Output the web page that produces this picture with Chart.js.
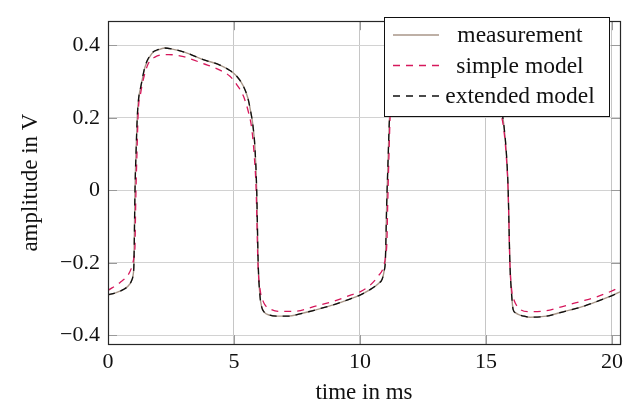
<!DOCTYPE html>
<html>
<head>
<meta charset="utf-8">
<script src="https://cdn.jsdelivr.net/npm/chart.js@4/dist/chart.umd.min.js"></script>
<style>
  body { margin: 0; background: #fff; }
  #wrap { width: 634px; height: 407px; position: relative; }
</style>
</head>
<body>
<div id="wrap"><canvas id="signalChart"></canvas></div>
<script>
// axis ticks
var xTicks = [0, 5, 10, 15, 20];
var xTickLabels = ['0', '5', '10', '15', '20'];
var yTicks = [-0.4, -0.2, 0, 0.2, 0.4];
var yTickLabels = ['\u22120.4', '\u22120.2', '0', '0.2', '0.4'];

// measured signal (time in ms, amplitude in V)
var measTime = [
        0, 0.3, 0.6, 0.8, 0.93, 1.0, 1.03, 1.07, 1.12, 1.16, 1.21,
        1.31, 1.47, 1.73, 2.0, 2.25, 2.55, 3.06, 3.78, 4.44, 4.84, 5.11, 5.37, 5.55,
        5.65, 5.75, 5.83, 5.9, 5.96, 6.03, 6.1, 6.2,
        6.4, 6.7, 7.15, 7.62, 8.28, 8.94, 9.6, 10.0, 10.4, 10.75, 10.88, 10.96,
        11.01, 11.06, 11.12, 11.16, 11.22,
        11.32, 11.49, 11.75, 12.0, 12.25, 12.55, 13.06, 13.78, 14.44, 14.84, 15.11, 15.37, 15.55,
        15.64, 15.71, 15.82, 15.88, 15.95, 16.02, 16.08, 16.18,
        16.28, 16.5, 16.75, 17.4, 18.07, 18.73, 19.39, 20.05, 20.32
];
var measVolt = [
        -0.289, -0.283, -0.274, -0.264, -0.25, -0.232, -0.2, -0.005, 0.12, 0.2, 0.25,
        0.288, 0.341, 0.377, 0.388, 0.393, 0.39, 0.381, 0.361, 0.346, 0.331, 0.315, 0.288, 0.255,
        0.222, 0.18, 0.12, 0.004, -0.2, -0.29, -0.322, -0.336,
        -0.344, -0.347, -0.347, -0.341, -0.329, -0.316, -0.3, -0.289, -0.274, -0.256, -0.245, -0.222,
        -0.19, -0.04, 0.093, 0.181, 0.25,
        0.288, 0.341, 0.377, 0.388, 0.393, 0.39, 0.381, 0.361, 0.346, 0.331, 0.315, 0.288, 0.255,
        0.215, 0.181, 0.093, 0.004, -0.2, -0.289, -0.329, -0.338,
        -0.342, -0.347, -0.35, -0.347, -0.335, -0.323, -0.307, -0.289, -0.28
];

// simple model
var simpleTime = [
        0, 0.48, 0.8, 0.94, 1.03, 1.07, 1.1, 1.16, 1.2, 1.3, 1.4, 1.6, 1.86,
        2.4, 3.0, 3.78, 4.44, 4.84, 5.11, 5.37, 5.57, 5.7,
        5.8, 5.88, 5.95, 6.05, 6.15, 6.25, 6.45, 6.8,
        7.35, 8.3, 8.95, 9.6, 10.0, 10.4, 10.73, 10.93, 11.02,
        11.07, 11.1, 11.16, 11.2, 11.3, 11.4, 11.6, 11.86,
        12.4, 13.0, 13.78, 14.44, 14.84, 15.11, 15.37, 15.57, 15.7,
        15.8, 15.88, 15.95, 16.03, 16.1, 16.3, 16.75,
        17.4, 18.07, 18.73, 19.39, 20.05, 20.32
];
var simpleVolt = [
        -0.276, -0.254, -0.233, -0.212, -0.185, -0.156, -0.032, 0.128, 0.217, 0.27, 0.306, 0.35, 0.368,
        0.375, 0.369, 0.35, 0.332, 0.315, 0.292, 0.261, 0.217, 0.173,
        0.1, 0.0, -0.2, -0.28, -0.305, -0.318, -0.328, -0.334,
        -0.334, -0.318, -0.306, -0.29, -0.28, -0.262, -0.236, -0.212, -0.18,
        -0.14, -0.04, 0.12, 0.21, 0.265, 0.305, 0.35, 0.368,
        0.375, 0.369, 0.35, 0.332, 0.315, 0.292, 0.261, 0.217, 0.173,
        0.1, 0.0, -0.2, -0.28, -0.3, -0.325, -0.335,
        -0.332, -0.32, -0.307, -0.294, -0.276, -0.267
];

// extended model (sampled at the same times as the measurement)
var extTime = measTime;
var extVolt = [
        -0.288, -0.283, -0.274, -0.264, -0.25, -0.231, -0.2, -0.006, 0.12, 0.2, 0.25,
        0.289, 0.342, 0.378, 0.389, 0.393, 0.39, 0.381, 0.361, 0.346, 0.331, 0.315, 0.288, 0.255,
        0.222, 0.18, 0.12, 0.004, -0.2, -0.29, -0.322, -0.336,
        -0.344, -0.347, -0.347, -0.341, -0.329, -0.316, -0.3, -0.289, -0.274, -0.256, -0.245, -0.222,
        -0.19, -0.04, 0.093, 0.181, 0.25,
        0.289, 0.342, 0.378, 0.389, 0.393, 0.39, 0.381, 0.361, 0.346, 0.331, 0.315, 0.288, 0.255,
        0.215, 0.181, 0.093, 0.004, -0.2, -0.289, -0.329, -0.338,
        -0.342, -0.347, -0.35, -0.347, -0.335, -0.323, -0.307, -0.289, -0.28
];

function toPoints(ts, vs) {
        return ts.map(function (t, i) { return { x: t, y: vs[i] }; });
}

var serif = "'Liberation Serif', 'Times New Roman', serif";
var measColor = 'rgb(168, 150, 136)';
var simpleColor = 'rgb(214, 24, 92)';
var extColor = 'rgb(15, 15, 15)';

// frame and inward tick marks around the plot area
var framePlugin = {
        id: 'frame',
        afterDatasetsDraw: function (chart) {
                var a = chart.chartArea, c = chart.ctx;
                var xs = chart.scales.x, ys = chart.scales.y;
                var len = 9;
                c.save();
                c.strokeStyle = '#9a9a9a';
                c.lineWidth = 1;
                c.beginPath();
                xTicks.forEach(function (v) {
                        var px = Math.round(xs.getPixelForValue(v)) + 0.5;
                        c.moveTo(px, a.bottom); c.lineTo(px, a.bottom - len);
                        c.moveTo(px, a.top); c.lineTo(px, a.top + len);
                });
                yTicks.forEach(function (v) {
                        var py = Math.round(ys.getPixelForValue(v)) + 0.5;
                        c.moveTo(a.left, py); c.lineTo(a.left + len, py);
                        c.moveTo(a.right, py); c.lineTo(a.right - len, py);
                });
                c.stroke();
                c.strokeStyle = '#262626';
                c.lineWidth = 1.2;
                c.strokeRect(Math.round(a.left) + 0.5, Math.round(a.top) + 0.5,
                        Math.round(a.right - a.left), Math.round(a.bottom - a.top));
                c.restore();
        }
};

// legend box in the upper right corner of the plot
var legendPlugin = {
        id: 'boxLegend',
        afterDraw: function (chart) {
                var c = chart.ctx;
                var box = { x: 384.5, y: 17.5, w: 225, h: 99 };
                c.save();
                c.fillStyle = '#fff';
                c.fillRect(box.x, box.y, box.w, box.h);
                c.strokeStyle = '#111';
                c.lineWidth = 1;
                c.strokeRect(box.x, box.y, box.w, box.h);
                c.font = '23.5px ' + serif;
                c.textAlign = 'center';
                c.textBaseline = 'middle';
                chart.data.datasets.forEach(function (ds, i) {
                        var y = 35 + i * 30.5;
                        c.strokeStyle = ds.borderColor;
                        c.lineWidth = ds.borderWidth;
                        c.setLineDash(ds.borderDash || []);
                        c.beginPath();
                        c.moveTo(393, y); c.lineTo(439, y);
                        c.stroke();
                        c.setLineDash([]);
                        c.fillStyle = '#111';
                        c.fillText(ds.label, 520, y + 1);
                });
                c.restore();
        }
};

// higher order is drawn first, so the extended model ends up on top
var signalData = {
        datasets: [
                {
                        label: 'measurement',
                        data: toPoints(measTime, measVolt),
                        borderColor: measColor,
                        borderWidth: 1.4,
                        pointRadius: 0,
                        cubicInterpolationMode: 'monotone',
                        fill: false,
                        order: 3
                },
                {
                        label: 'simple model',
                        data: toPoints(simpleTime, simpleVolt),
                        borderColor: simpleColor,
                        borderWidth: 1.3,
                        borderDash: [7, 6],
                        pointRadius: 0,
                        cubicInterpolationMode: 'monotone',
                        fill: false,
                        order: 2
                },
                {
                        label: 'extended model',
                        data: toPoints(extTime, extVolt),
                        borderColor: extColor,
                        borderWidth: 1.3,
                        borderDash: [7, 6],
                        pointRadius: 0,
                        cubicInterpolationMode: 'monotone',
                        fill: false,
                        order: 1
                }
        ]
};

var signalConfig = {
        type: 'line',
        data: signalData,
        options: {
                responsive: true,
                maintainAspectRatio: false,
                animation: false,
                events: [],
                layout: { padding: { top: 10, right: 14, left: 0, bottom: 0 } },
                plugins: { legend: { display: false }, tooltip: { enabled: false } },
                scales: {
                        x: {
                                type: 'linear',
                                min: 0,
                                max: 20.32,
                                afterBuildTicks: function (scale) {
                                        scale.ticks = xTicks.map(function (v) { return { value: v }; });
                                },
                                afterFit: function (scale) { scale.height = 63; },
                                grid: { color: '#c6c6c6', lineWidth: 1, drawTicks: false },
                                border: { display: false },
                                ticks: {
                                        padding: 5,
                                        color: '#111',
                                        maxRotation: 0,
                                        font: { family: serif, size: 22 },
                                        callback: function (value, index) { return xTickLabels[index]; }
                                },
                                title: {
                                        display: true,
                                        text: 'time in ms',
                                        color: '#111',
                                        font: { family: serif, size: 23 },
                                        padding: { top: 1, bottom: 0 }
                                }
                        },
                        y: {
                                min: -0.424,
                                max: 0.467,
                                afterBuildTicks: function (scale) {
                                        scale.ticks = yTicks.map(function (v) { return { value: v }; });
                                },
                                afterFit: function (scale) { scale.width = 108; },
                                grid: { color: '#d2d2d2', lineWidth: 1, drawTicks: false },
                                border: { display: false },
                                ticks: {
                                        padding: 8,
                                        color: '#111',
                                        font: { family: serif, size: 22 },
                                        callback: function (value, index) { return yTickLabels[index]; }
                                },
                                title: {
                                        display: true,
                                        text: 'amplitude in V',
                                        color: '#111',
                                        font: { family: serif, size: 23 },
                                        // keeps the rotated title off the canvas edge
                                        padding: { top: 17, bottom: 4 }
                                }
                        }
                }
        },
        plugins: [framePlugin, legendPlugin]
};

// Create the chart
var ctx = document.getElementById('signalChart').getContext('2d');
var signalChart = new Chart(ctx, signalConfig);
</script>
</body>
</html>
